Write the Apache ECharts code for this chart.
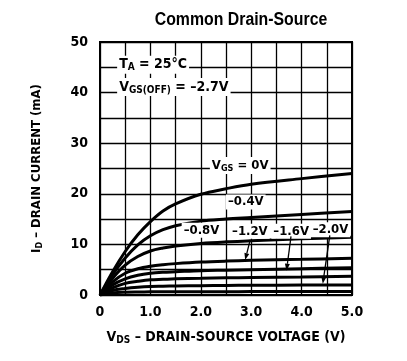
<!DOCTYPE html>
<html><head><meta charset="utf-8">
<script src="https://cdn.jsdelivr.net/npm/echarts@6/dist/echarts.min.js"></script>
<style>html,body{margin:0;padding:0;background:#fff}#c{width:407px;height:361px}</style>
</head><body><div id="c"></div>
<script>
// ---- data ----
const vds = [0, 0.25, 0.5, 0.75, 1.0, 1.25, 1.5, 2.0, 2.5, 3.0, 4.0, 5.0];
const id_0v   = [0, 4.6, 8.6, 11.9, 14.5, 16.6, 18.0, 19.9, 21.0, 21.9, 23.0, 24.0];
const id_m04  = [0, 4.0, 7.3, 9.9, 11.7, 12.9, 13.7, 14.6, 15.0, 15.3, 15.9, 16.5];
const id_m08  = [0, 3.3, 5.9, 7.6, 8.7, 9.3, 9.7, 10.2, 10.5, 10.7, 11.1, 11.4];
const id_m12  = [0, 2.6, 4.3, 5.2, 5.7, 6.0, 6.2, 6.5, 6.7, 6.85, 7.05, 7.25];
const id_c5   = [0, 2.0, 3.2, 3.9, 4.3, 4.5, 4.6, 4.8, 4.9, 5.0, 5.2, 5.4];
const id_c6   = [0, 1.4, 2.3, 2.7, 3.0, 3.1, 3.2, 3.3, 3.4, 3.45, 3.55, 3.7];
const id_c7   = [0, 0.9, 1.3, 1.55, 1.7, 1.75, 1.8, 1.85, 1.9, 1.92, 1.97, 2.0];
const id_c8   = [0, 0.4, 0.55, 0.6, 0.62, 0.63, 0.64, 0.65, 0.66, 0.67, 0.69, 0.7];
const curves = [id_0v, id_m04, id_m08, id_m12, id_c5, id_c6, id_c7, id_c8];
const xTicks = [0, 1, 2, 3, 4, 5];
const yTicks = [0, 10, 20, 30, 40, 50];

const titleText = 'Common Drain-Source';
// annotation texts (rich) with anchor in data coordinates
const notes = [
  {t: '{n|T}{s|A}{n| = 25°C}', at: [0.34, 45.5]},
  {t: '{n|V}{s|GS(OFF)}{n| = –2.7V}', at: [0.34, 41.1]},
  {t: '{n|V}{s|GS}{n| = 0V}', at: [2.18, 25.6]},
  {t: '{n|–0.4V}', at: [2.5, 18.4]},
  {t: '{n|–0.8V}', at: [1.62, 12.8]},
  {t: '{n|–1.2V}', at: [2.58, 12.6]},
  {t: '{n|–1.6V}', at: [3.4, 12.6]},
  {t: '{n|–2.0V}', at: [4.18, 12.9]}
];
const arrows = [
  {from: [2.98, 10.9], to: [2.88, 6.9]},
  {from: [3.79, 11.6], to: [3.70, 4.8]},
  {from: [4.56, 11.8], to: [4.42, 2.2]}
];

const FN = '"Liberation Sans Narrow","DejaVu Sans Condensed","Arial Narrow",sans-serif';
const chart = echarts.init(document.getElementById('c'), null, {renderer: 'canvas'});

const series = curves.map(arr => ({
  type: 'line', data: vds.map((x, i) => [x, arr[i]]), smooth: 0.35, showSymbol: false,
  lineStyle: {color: '#000', width: 3}, z: 3, silent: true
}));

chart.setOption({
  animation: false,
  grid: {left: 100, right: 55, top: 42, bottom: 66, show: true, borderColor: '#000', borderWidth: 2, backgroundColor: '#fff'},
  xAxis: {
    type: 'value', min: 0, max: 5, interval: 0.5,
    axisLine: {show: true, lineStyle: {color: '#000', width: 2}},
    axisTick: {show: false},
    splitLine: {show: true, lineStyle: {color: '#000', width: 1.3}},
    axisLabel: {
      margin: 10, color: '#000', fontFamily: FN, fontWeight: 'bold', fontSize: 14,
      formatter: v => xTicks.indexOf(v) < 0 ? '' : (v === 0 ? '0' : v.toFixed(1))
    },
    name: '{n|V}{s|DS}{n| – DRAIN-SOURCE VOLTAGE (V)}', nameLocation: 'middle', nameGap: 34,
    nameTextStyle: {rich: {
      n: {fontFamily: FN, fontWeight: 'bold', fontSize: 14, color: '#000'},
      s: {fontFamily: FN, fontWeight: 'bold', fontSize: 10, color: '#000', verticalAlign: 'bottom', padding: [6, 0, 0, 0]}
    }}
  },
  yAxis: {
    type: 'value', min: 0, max: 50, interval: 5,
    axisLine: {show: true, lineStyle: {color: '#000', width: 2}},
    axisTick: {show: false},
    splitLine: {show: true, lineStyle: {color: '#000', width: 1.3}},
    axisLabel: {
      margin: 12, color: '#000', fontFamily: FN, fontWeight: 'bold', fontSize: 14,
      formatter: v => yTicks.indexOf(v) < 0 ? '' : String(v)
    },
    name: '{n|I}{s|D}{n| – DRAIN CURRENT (mA)}', nameLocation: 'middle', nameGap: 56, nameRotate: 90,
    nameTextStyle: {rich: {
      n: {fontFamily: FN, fontWeight: 'bold', fontSize: 13, color: '#000'},
      s: {fontFamily: FN, fontWeight: 'bold', fontSize: 9, color: '#000', verticalAlign: 'bottom', padding: [5, 0, 0, 0]}
    }}
  },
  series: series
});

function richFor(size) {
  return {
    n: {fontFamily: FN, fontWeight: 'bold', fontSize: size, fill: '#000', color: '#000'},
    s: {fontFamily: FN, fontWeight: 'bold', fontSize: size - 4, fill: '#000', color: '#000', verticalAlign: 'bottom', padding: [6, 0, 0, 0]}
  };
}
const gfx = [];
gfx.push({
  type: 'text', x: 241, y: 20, z: 10, scaleX: 0.88,
  style: {text: titleText, font: 'bold 18px "Liberation Sans", Arial, sans-serif', fill: '#000', align: 'center', verticalAlign: 'middle'}
});
notes.forEach((n, i) => {
  const p = chart.convertToPixel({gridIndex: 0}, n.at);
  gfx.push({
    type: 'text', x: p[0], y: p[1], z: 10,
    style: {text: n.t, rich: richFor(i < 2 ? 14 : 13), verticalAlign: 'middle', align: 'left', backgroundColor: '#fff', padding: [1, 2, 1, 2]}
  });
});
arrows.forEach(a => {
  const p1 = chart.convertToPixel({gridIndex: 0}, a.from);
  const p2 = chart.convertToPixel({gridIndex: 0}, a.to);
  const dx = p2[0] - p1[0], dy = p2[1] - p1[1];
  const L = Math.hypot(dx, dy), ux = dx / L, uy = dy / L;
  const hl = 7, hw = 2.5;
  const bx = p2[0] - ux * hl, by = p2[1] - uy * hl;
  gfx.push({type: 'line', z: 11, shape: {x1: p1[0], y1: p1[1], x2: bx, y2: by}, style: {stroke: '#000', lineWidth: 1.3}});
  gfx.push({type: 'polygon', z: 11, shape: {points: [[p2[0], p2[1]], [bx - uy * hw, by + ux * hw], [bx + uy * hw, by - ux * hw]]}, style: {fill: '#000'}});
});
chart.setOption({graphic: gfx});
</script></body></html>
